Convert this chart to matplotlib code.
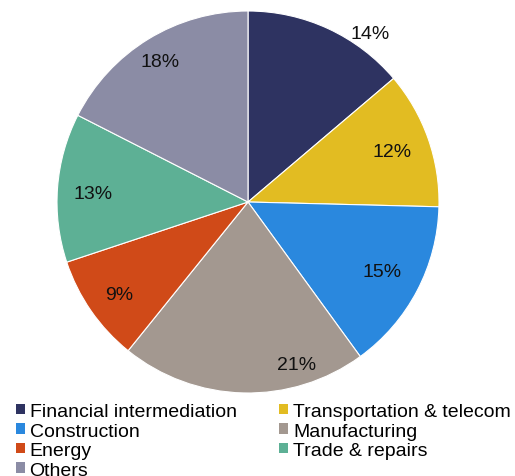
import numpy as np
import matplotlib
matplotlib.use('Agg')
import matplotlib.pyplot as plt

plt.rcParams['font.family'] = ['Liberation Sans', 'DejaVu Sans']

sectors = ['Financial intermediation', 'Transportation & telecom', 'Construction',
           'Manufacturing', 'Energy', 'Trade & repairs', 'Others']
shares = [13.8, 11.6, 14.6, 20.8, 9.1, 12.6, 17.5]
colors = ['#2E3361', '#E2BC22', '#2A88DE', '#A39890', '#D04A18', '#5DB095', '#8B8CA5']
# percentage label placement: distance (fraction of radius) and angle shift (deg)
label_r = [1.09, 0.80, 0.79, 0.89, 0.83, 0.81, 0.87]
label_shift = [-11, 0, 0.5, 18, 1, 1, 0.5]

W, H = 515, 477
fig = plt.figure(figsize=(W / 100, H / 100), dpi=100)
cx, cy, r = 248, 203, 191
ax = fig.add_axes([(cx - r) / W, (H - cy - r) / H, 2 * r / W, 2 * r / H])

wedges, _ = ax.pie(shares, colors=colors, startangle=90, counterclock=False,
                   radius=1, wedgeprops=dict(edgecolor='white', linewidth=0.8))

for w, v, lr, sh in zip(wedges, shares, label_r, label_shift):
    mid = np.deg2rad((w.theta1 + w.theta2) / 2 + sh)
    ax.text(lr * np.cos(mid), lr * np.sin(mid), '%.0f%%' % v,
            ha='center', va='center', fontsize=14, color='#111111')

ax.set_xlim(-1, 1)
ax.set_ylim(-1, 1)
ax.axis('off')

# row-major legend order for two columns
order = [0, 2, 4, 6, 1, 3, 5]
leg = fig.legend([wedges[i] for i in order], [sectors[i] for i in order],
                 loc='upper left', bbox_to_anchor=(16 / W, 1 - 404 / H),
                 ncol=2, frameon=False, fontsize=14, borderpad=0, borderaxespad=0,
                 handlelength=0.45, handleheight=0.45, handletextpad=0.25,
                 labelspacing=0.13, columnspacing=2.2)
for h in leg.legend_handles:
    h.set_edgecolor('none')

fig.savefig('out.png', dpi=100)
